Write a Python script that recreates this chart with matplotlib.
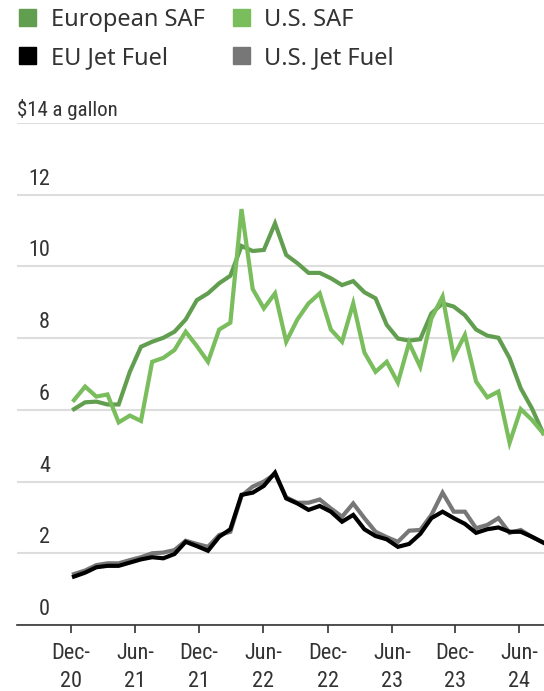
import matplotlib
matplotlib.use("Agg")
import matplotlib.pyplot as plt
from matplotlib.patches import Patch
from matplotlib import font_manager as fm
import matplotlib.transforms as mtransforms

names = {f.name for f in fm.fontManager.ttflist}
narrow_pref = ["Liberation Sans Narrow", "Roboto Condensed", "Open Sans Condensed",
               "DejaVu Sans"]
NARROW = [n for n in narrow_pref if n in names] or ["DejaVu Sans"]

# ---------------- data (USD per gallon) ----------------
european_saf = [6.02, 6.21, 6.23, 6.15, 6.15, 7.06, 7.76, 7.90, 8.01, 8.18,
                8.52, 9.06, 9.25, 9.53, 9.74, 10.57, 10.43, 10.46, 11.20, 10.32,
                10.09, 9.82, 9.82, 9.67, 9.48, 9.59, 9.28, 9.11, 8.37, 7.99,
                7.93, 7.97, 8.69, 8.97, 8.88, 8.64, 8.24, 8.07, 8.01, 7.44,
                6.60, 6.04, 5.35]
us_saf = [6.27, 6.65, 6.37, 6.43, 5.65, 5.84, 5.69, 7.34, 7.45, 7.67,
          8.18, 7.78, 7.34, 8.24, 8.43, 11.60, 9.37, 8.83, 9.25, 7.90,
          8.52, 8.97, 9.25, 8.24, 7.90, 8.97, 7.60, 7.06, 7.34, 6.76,
          7.87, 7.20, 8.55, 9.16, 7.48, 8.09, 6.79, 6.35, 6.51, 5.08,
          6.02, 5.72, 5.35]
eu_jet = [1.35, 1.46, 1.61, 1.65, 1.65, 1.74, 1.83, 1.89, 1.86, 1.98,
          2.32, 2.20, 2.07, 2.46, 2.67, 3.63, 3.69, 3.88, 4.25, 3.53,
          3.39, 3.21, 3.32, 3.16, 2.88, 3.07, 2.67, 2.48, 2.39, 2.18,
          2.26, 2.54, 2.98, 3.16, 2.98, 2.82, 2.57, 2.67, 2.72, 2.60,
          2.60, 2.46, 2.30]
us_jet = [1.42, 1.52, 1.67, 1.72, 1.72, 1.81, 1.89, 2.00, 2.02, 2.09,
          2.35, 2.26, 2.18, 2.51, 2.60, 3.60, 3.86, 4.00, 4.21, 3.56,
          3.41, 3.41, 3.50, 3.25, 3.02, 3.39, 2.98, 2.60, 2.45, 2.32,
          2.63, 2.65, 3.07, 3.69, 3.16, 3.16, 2.70, 2.79, 2.98, 2.57,
          2.65, 2.46, 2.30]
x_idx = list(range(len(european_saf)))

tick_pos = [-0.27, 5.49, 11.19, 16.92, 22.71, 28.47, 34.11, 39.84]
tick_labels = ["Dec-\n20", "Jun-\n21", "Dec-\n21", "Jun-\n22",
               "Dec-\n22", "Jun-\n23", "Dec-\n23", "Jun-\n24"]
y_ticks = [0, 2, 4, 6, 8, 10, 12, 14]
y_labels = ["0", "2", "4", "6", "8", "10", "12", "$14 a gallon"]

C_EU_SAF = "#629e50"
C_US_SAF = "#79bd5c"
C_EU_JET = "#000000"
C_US_JET = "#777777"
TXT = "#333333"

W, H = 544, 691
fig = plt.figure(figsize=(W / 100, H / 100), dpi=100)
left_px, right_px, top_px, bot_px = 17, 544, 123, 625
ax = fig.add_axes([left_px / W, 1 - bot_px / H, (right_px - left_px) / W,
                   (bot_px - top_px) / H])

ax.plot(x_idx, european_saf, color=C_EU_SAF, lw=3, solid_joinstyle="miter", zorder=3)
ax.plot(x_idx, us_saf, color=C_US_SAF, lw=3, solid_joinstyle="miter", zorder=4)
ax.plot(x_idx, us_jet, color=C_US_JET, lw=3, solid_joinstyle="miter", zorder=5)
ax.plot(x_idx, eu_jet, color=C_EU_JET, lw=3, solid_joinstyle="miter", zorder=6)

ax.set_xlim(-5.10, 42.08)
ax.set_ylim(0, 14)

for s in ["top", "right", "left"]:
    ax.spines[s].set_visible(False)
ax.spines["bottom"].set_color(TXT)
ax.spines["bottom"].set_linewidth(1.2)
ax.spines["bottom"].set_zorder(7)

ax.set_yticks(y_ticks)
ax.yaxis.grid(True, color="#dddddd", lw=1.5)
ax.set_axisbelow(True)
ax.tick_params(axis="y", length=0, labelleft=False)

ax.set_xticks(tick_pos)
ax.set_xticklabels(tick_labels, fontfamily=NARROW, fontstretch="condensed",
                   fontsize=16, color=TXT, linespacing=1.42)
ax.tick_params(axis="x", length=6, width=1.2, color=TXT, pad=7)

trans = mtransforms.blended_transform_factory(ax.transAxes, ax.transData)
for v, lab in zip(y_ticks, y_labels):
    if v == 14:
        t = mtransforms.offset_copy(trans, fig=fig, x=0, y=3, units="dots")
        ax.text(0.0, v, lab, transform=t, ha="left", va="bottom",
                fontfamily=NARROW, fontstretch="condensed", fontsize=15, color=TXT)
    else:
        t = mtransforms.offset_copy(trans, fig=fig, x=0, y=5, units="dots")
        ax.text((50 - left_px) / (right_px - left_px), v, lab, transform=t,
                ha="right", va="bottom", fontfamily=NARROW,
                fontstretch="condensed", fontsize=16, color=TXT)

# legend laid out row-wise: matplotlib fills columns first
handles = [Patch(color=C_EU_SAF, label="European SAF"),
           Patch(color=C_EU_JET, label="EU Jet Fuel"),
           Patch(color=C_US_SAF, label="U.S. SAF"),
           Patch(color=C_US_JET, label="U.S. Jet Fuel")]
leg = fig.legend(handles=handles, ncol=2, loc="upper left",
                 bbox_to_anchor=(19 / W, 1 - 8 / H), frameon=False,
                 prop={"family": "Noto Sans", "size": 17},
                 handlelength=0.72, handleheight=0.72, handletextpad=0.62,
                 columnspacing=1.2, labelspacing=0.6, borderpad=0,
                 borderaxespad=0)
for t in leg.get_texts():
    t.set_color(TXT)

fig.savefig("out.png", dpi=100)
